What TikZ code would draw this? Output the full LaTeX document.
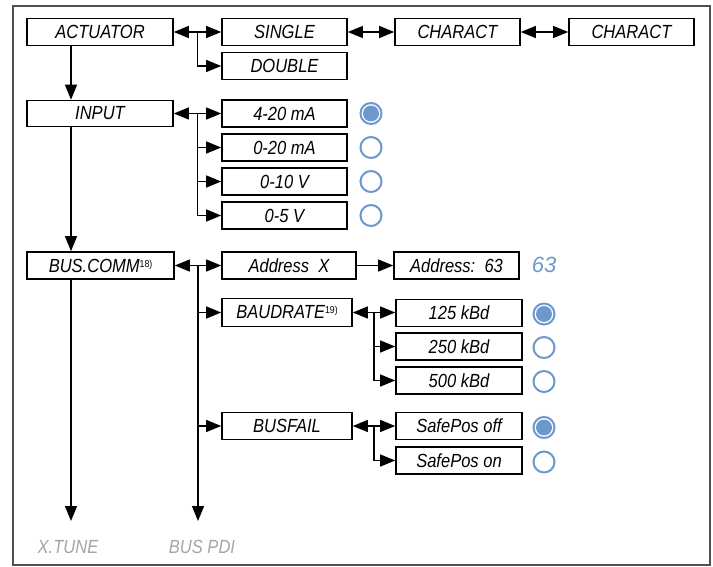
\documentclass[tikz,border=0pt]{standalone}
\usepackage{fontspec}
\setmainfont[FakeStretch=0.87]{Liberation Sans}
\newfontfamily\valfont{Liberation Sans}
\usetikzlibrary{arrows.meta}
\definecolor{radioblue}{RGB}{108,152,204}
\definecolor{greytext}{RGB}{165,165,165}
\definecolor{framegrey}{RGB}{80,80,80}
\newcommand{\fnref}[1]{\raisebox{5pt}{\upshape\fontsize{10}{10}\selectfont #1}}

\begin{document}
\begin{tikzpicture}[x=1pt,y=-1pt,
 box/.style={draw,line width=1.6pt,minimum height=27pt,inner sep=0pt,font=\fontsize{19}{20}\selectfont\itshape},
 arr/.style={-{Triangle[length=15pt,width=12pt]},line width=1.2pt},
 dbl/.style={{Triangle[length=15pt,width=12pt]}-{Triangle[length=15pt,width=12pt]},line width=1.2pt},
 radio/.style={circle,draw=radioblue,line width=2pt,minimum size=21pt,inner sep=0pt},
 menu/.style={font=\fontsize{19}{20}\selectfont\itshape,text=greytext}]
\useasboundingbox (0,0) rectangle (713,567);
\draw[framegrey,line width=1.4pt] (13,6) rectangle (710,565);
% actuator
\node[box,minimum width=146pt] (act) at (100,32) {ACTUATOR};
\node[box,minimum width=125pt] (single) at (284.5,32) {SINGLE};
\node[box,minimum width=125pt] (double) at (284.5,66) {DOUBLE};
\node[box,minimum width=125pt] (char1) at (457.5,32) {CHARACT};
\node[box,minimum width=125pt] (char2) at (631.5,32) {CHARACT};
% input
\node[box,minimum width=146pt,minimum height=26pt] (input) at (100,113.5) {INPUT};
\foreach \n/\y/\t in {i1/113.5/4-20 mA,i2/147.5/0-20 mA,i3/181.5/0-10 V,i4/215.5/0-5 V}{
 \node[box,minimum width=125pt] (\n) at (284.5,\y) {\t};
 \node[radio] (r\n) at (371,\y) {};
}
\fill[radioblue] (ri1) circle (8pt);
% bus
\node[box,minimum width=147pt] (bus) at (100.5,265.5) {BUS.COMM\fnref{18)}};
\node[box,minimum width=134pt] (addrx) at (289,265.5) {Address~~X};
\node[box,minimum width=125pt] (addr) at (456.5,265.5) {Address:~~63};
\node[font=\valfont\fontsize{22}{24}\selectfont\itshape,text=radioblue] (addrval) at (544,265) {63};
\node[box,minimum width=130pt,minimum height=28pt] (baud) at (287,312.5) {BAUDRATE\fnref{19)}};
\foreach \n/\y/\t in {b1/313/125 kBd,b2/346.5/250 kBd,b3/380.5/500 kBd}{
 \node[box,minimum width=126pt] (\n) at (459,\y) {\t};
 \node[radio] (r\n) at (544,\y+1) {};
}
\fill[radioblue] (rb1) circle (8pt);
\node[box,minimum width=130pt] (fail) at (287,426) {BUSFAIL};
\foreach \n/\y/\t in {s1/426/SafePos off,s2/460.5/SafePos on}{
 \node[box,minimum width=126pt] (\n) at (459,\y) {\t};
 \node[radio] (r\n) at (544,\y+1.5) {};
}
\fill[radioblue] (rs1) circle (8pt);
\node[menu] (xtune) at (68,547) {X.TUNE};
\node[menu] (buspdi) at (202,547) {BUS PDI};
\coordinate (xt) at (71,521);
% connectors
\draw[dbl] (act) -- (single);
\path (act.east) -- (single.west) coordinate[midway] (j1);
\draw[arr] (j1) |- (double);
\draw[dbl] (single) -- (char1);
\draw[dbl] (char1) -- (char2);
\draw[arr] (act.south -| xt) -- (input.north -| xt);
\draw[arr] (input.south -| xt) -- (bus.north -| xt);
\draw[arr] (bus.south -| xt) -- (xt);
\draw[dbl] (input) -- (i1);
\path (input.east) -- (i1.west) coordinate[midway] (j2);
\foreach \n in {i2,i3,i4} \draw[arr] (j2) |- (\n);
\draw[dbl] (bus) -- (addrx);
\path (bus.east) -- (addrx.west) coordinate[midway] (j3);
\coordinate (bp) at (j3 |- xt);
\draw[arr] (j3) -- (bp);
\draw[arr] (j3) |- (baud);
\draw[arr] (j3) |- (fail);
\draw[arr] (addrx) -- (addr);
\draw[dbl] (baud.east) -- (baud.east -| b1.west);
\path (baud.east) -- (baud.east -| b1.west) coordinate[midway] (j4);
\foreach \n in {b2,b3} \draw[arr] (j4) |- (\n);
\draw[dbl] (fail) -- (s1);
\path (fail.east) -- (s1.west) coordinate[midway] (j5);
\draw[arr] (j5) |- (s2);
\end{tikzpicture}
\end{document}
